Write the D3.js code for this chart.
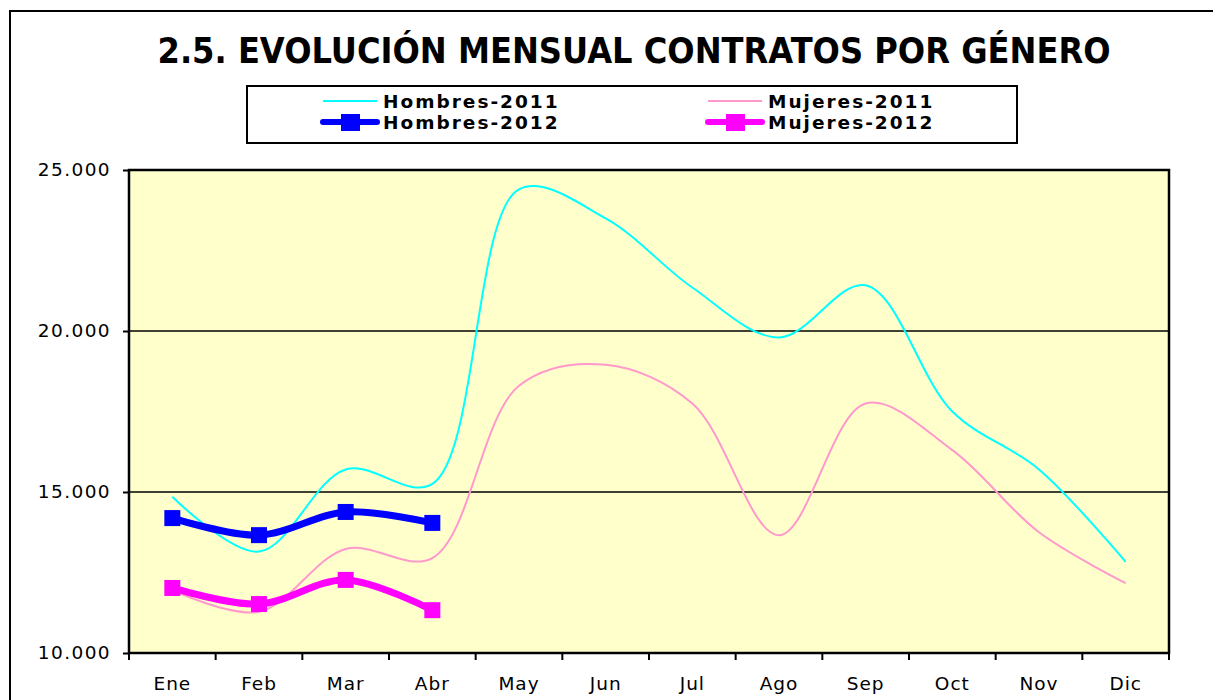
<!DOCTYPE html>
<html>
<head>
<meta charset="utf-8">
<script src="https://cdn.jsdelivr.net/npm/d3@7"></script>
<style>
  body { margin: 0; background: #fff; }
  text { font-family: "DejaVu Sans", Verdana, sans-serif; }
</style>
</head>
<body>
<div class="chart"></div>
<script>
// monthly contracts by gender
const months = ["Ene","Feb","Mar","Abr","May","Jun","Jul","Ago","Sep","Oct","Nov","Dic"];
const hombres2011 = [14850, 13150, 15700, 15250, 24400, 23500, 21350, 19800, 21420, 17500, 15700, 12830];
const mujeres2011 = [11950, 11280, 13230, 12950, 18300, 18950, 17750, 13660, 17750, 16300, 13750, 12170];
const hombres2012 = [14190, 13660, 14380, 14040];
const mujeres2012 = [12020, 11520, 12270, 11330];
const yTicks = [10000, 15000, 20000, 25000];

const width = 1213, height = 700;
const margin = {top:170, left:129, right:44, bottom:47};

const svg = d3.select('.chart').append('svg')
    .attr("width", width)
    .attr("height", height);

// outer frame
svg.append("rect")
    .attr("x", 10).attr("y", 11)
    .attr("width", 1220).attr("height", 700)
    .attr("fill", "none")
    .attr("stroke", "#000")
    .attr("stroke-width", 2);

svg.append("text")
    .attr("x", 634)
    .attr("y", 63)
    .attr("text-anchor", "middle")
    .attr("textLength", 953)
    .attr("lengthAdjust", "spacingAndGlyphs")
    .style("font-size", "35px")
    .style("font-weight", "bold")
    .text("2.5. EVOLUCIÓN MENSUAL CONTRATOS POR GÉNERO");

const xScale = d3.scaleBand()
    .domain(months)
    .range([margin.left, width - margin.right]);

const yScale = d3.scaleLinear()
    .domain([10000, 25000])
    .range([height - margin.bottom, margin.top]);

const cx = d => xScale(d) + xScale.bandwidth() / 2;

// plot background
svg.append("rect")
    .attr("x", margin.left)
    .attr("y", margin.top)
    .attr("width", xScale.range()[1] - margin.left)
    .attr("height", yScale(10000) - margin.top)
    .attr("fill", "#FFFFCC");

// gridlines
svg.append("g")
    .selectAll("line")
    .data(yTicks.slice(1, 3))
    .enter()
    .append("line")
    .attr("x1", margin.left)
    .attr("x2", xScale.range()[1])
    .attr("y1", d => yScale(d))
    .attr("y2", d => yScale(d))
    .attr("stroke", "#000")
    .attr("stroke-width", 1.5);

const locale = d3.formatLocale({decimal:",", thousands:".", grouping:[3], currency:["",""]});

const yAxis = d3.axisLeft(yScale)
    .tickValues(yTicks)
    .tickSize(6)
    .tickPadding(12)
    .tickFormat(locale.format(","));

const yg = svg.append("g")
    .attr("class", "axis y-axis")
    .attr("transform", `translate(${margin.left},0)`)
    .call(yAxis);
yg.select(".domain").remove();
yg.selectAll("line").attr("stroke", "#000").attr("stroke-width", 2);
yg.selectAll("text")
    .style("font-size", "18.5px")
    .style("letter-spacing", "1.4px")
    .attr("fill", "#000");

// x axis labels
const xAxis = d3.axisBottom(xScale).tickSize(0).tickPadding(24);
const xg = svg.append("g")
    .attr("class", "axis x-axis")
    .attr("transform", `translate(0,${yScale(10000)})`)
    .call(xAxis);
xg.select(".domain").remove();
xg.selectAll("text")
    .style("font-size", "18.5px")
    .style("letter-spacing", "1px")
    .attr("fill", "#000");

// tick marks between categories
svg.append("g")
    .selectAll("line")
    .data(months.map(m => xScale(m)).concat([xScale.range()[1]]))
    .enter()
    .append("line")
    .attr("x1", d => d).attr("x2", d => d)
    .attr("y1", yScale(10000))
    .attr("y2", yScale(10000) + 7)
    .attr("stroke", "#000")
    .attr("stroke-width", 2);

// plot border
svg.append("rect")
    .attr("x", margin.left)
    .attr("y", margin.top)
    .attr("width", xScale.range()[1] - margin.left)
    .attr("height", yScale(10000) - margin.top)
    .attr("fill", "none")
    .attr("stroke", "#000")
    .attr("stroke-width", 2.5);

const line = d3.line()
    .x((d, i) => cx(months[i]))
    .y(d => yScale(d))
    .curve(d3.curveCatmullRom.alpha(0.5));

const series = [
    {name:"Hombres-2011", values:hombres2011, color:"#00FFFF", width:2, marker:false},
    {name:"Mujeres-2011", values:mujeres2011, color:"#FF99CC", width:2, marker:false},
    {name:"Hombres-2012", values:hombres2012, color:"#0000FF", width:7, marker:true},
    {name:"Mujeres-2012", values:mujeres2012, color:"#FF00FF", width:7, marker:true}
];

series.forEach(s => {
    svg.append("path")
        .datum(s.values)
        .attr("d", line)
        .attr("fill", "none")
        .attr("stroke", s.color)
        .attr("stroke-width", s.width)
        .attr("stroke-linejoin", "round");
    if (s.marker) {
        svg.append("g")
            .selectAll("rect")
            .data(s.values)
            .enter()
            .append("rect")
            .attr("x", (d, i) => cx(months[i]) - 8)
            .attr("y", d => yScale(d) - 8)
            .attr("width", 16)
            .attr("height", 16)
            .attr("fill", s.color);
    }
});

// legend
let legend = svg.append("g").attr("id", "legend");
legend.append("rect")
    .attr("x", 247).attr("y", 86)
    .attr("width", 770).attr("height", 57)
    .attr("fill", "#fff")
    .attr("stroke", "#000")
    .attr("stroke-width", 2);

const legendPos = [
    {x:323, y:101}, {x:708, y:101}, {x:323, y:122}, {x:708, y:122}
];

series.forEach((s, i) => {
    const p = legendPos[i];
    legend.append("line")
        .attr("x1", p.x).attr("x2", p.x + 54)
        .attr("y1", p.y).attr("y2", p.y)
        .attr("stroke", s.color)
        .attr("stroke-width", s.marker ? 6 : 2)
        .attr("stroke-linecap", s.marker ? "round" : "butt");
    if (s.marker) {
        legend.append("rect")
            .attr("x", p.x + 18).attr("y", p.y - 8)
            .attr("width", 19).attr("height", 17)
            .attr("fill", s.color);
    }
    legend.append("text")
        .attr("x", p.x + 60)
        .attr("y", p.y)
        .attr("dy", "0.36em")
        .style("font-size", "18.5px")
        .style("font-weight", "bold")
        .style("letter-spacing", "2px")
        .text(s.name);
});
</script>
</body>
</html>
